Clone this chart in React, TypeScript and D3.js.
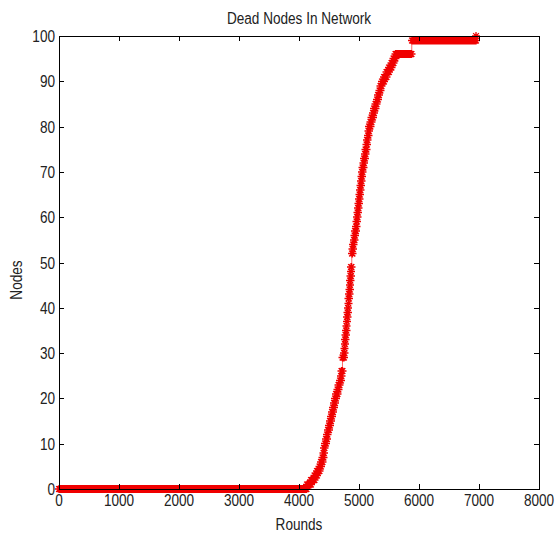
import React, { useRef, useEffect } from 'react';
import * as d3 from 'd3';

const title = 'Dead Nodes In Network';
const xLabel = 'Rounds';
const yLabel = 'Nodes';
const xTicks = [0, 1000, 2000, 3000, 4000, 5000, 6000, 7000, 8000];
const yTicks = [0, 10, 20, 30, 40, 50, 60, 70, 80, 90, 100];

// round at which each of the 100 nodes died
const deathRounds = [
  4130, 4200, 4260, 4300, 4340, 4370, 4390, 4410, 4420, 4430,
  4450, 4465, 4480, 4500, 4520, 4535, 4550, 4570, 4585, 4600,
  4620, 4640, 4660, 4680, 4700, 4710, 4725, 4725, 4725, 4750,
  4757, 4763, 4770, 4776, 4783, 4790, 4796, 4803, 4809, 4815,
  4821, 4828, 4834, 4841, 4847, 4853, 4859, 4865, 4870, 4880,
  4880, 4880, 4891, 4902, 4913, 4925, 4936, 4947, 4958, 4970,
  4978, 4986, 4994, 5002, 5010, 5018, 5026, 5034, 5042, 5050,
  5062, 5074, 5086, 5098, 5110, 5122, 5134, 5146, 5158, 5170,
  5191, 5212, 5233, 5254, 5275, 5296, 5317, 5338, 5359, 5380,
  5420, 5460, 5500, 5540, 5575, 5610, 5880, 5880, 5880, 6950,
];

const font = "'Liberation Sans', Arial, sans-serif";
const squeeze = 0.8; // narrow look of the original font

export default function App() {
  const ref = useRef<HTMLDivElement>(null);

  useEffect(() => {
    const width = 555;
    const height = 535;
    const margin = { top: 36, right: 16, bottom: 46, left: 59 };
    const el = ref.current;
    if (!el) return;

    const svg = d3
      .select(el)
      .call((g) => g.select('svg').remove())
      .append('svg')
      .attr('width', width)
      .attr('height', height)
      .style('display', 'block')
      .style('background', '#fff');

    const x = d3.scaleLinear().domain([0, 8000]).range([margin.left, width - margin.right]);
    const y = d3.scaleLinear().domain([0, 100]).range([height - margin.bottom, margin.top]);

    const lastRound = d3.max(deathRounds) as number;
    const rounds = d3.range(0, lastRound + 1);
    const data = rounds.map((r) => ({ round: r, dead: d3.bisectRight(deathRounds, r) }));

    // line
    svg.append('path')
      .attr('fill', 'none')
      .attr('stroke', '#ff0000')
      .attr('stroke-width', 0.6)
      .attr('d', d3.line<{ round: number; dead: number }>()
        .x((d) => x(d.round))
        .y((d) => y(d.dead))(data));

    // star markers, skip ones that land on the same spot
    const s = 4;
    const k = s * 0.72;
    const seen = new Set<string>();
    let dPath = '';
    data.forEach((d) => {
      const px = Math.round(x(d.round) * 2) / 2;
      const py = Math.round(y(d.dead) * 2) / 2;
      const key = `${px},${py}`;
      if (seen.has(key)) return;
      seen.add(key);
      dPath += `M${px - s},${py}h${2 * s}M${px},${py - s}v${2 * s}`;
      dPath += `M${px - k},${py - k}l${2 * k},${2 * k}M${px - k},${py + k}l${2 * k},${-2 * k}`;
    });
    svg.append('path')
      .attr('fill', 'none')
      .attr('stroke', '#f00000')
      .attr('stroke-width', 1.3)
      .attr('d', dPath);

    // box
    const x0 = margin.left;
    const x1 = width - margin.right;
    const y0 = margin.top;
    const y1 = height - margin.bottom;
    svg.append('rect')
      .attr('x', x0 + 0.5)
      .attr('y', y0 + 0.5)
      .attr('width', x1 - x0)
      .attr('height', y1 - y0)
      .attr('fill', 'none')
      .attr('stroke', '#000')
      .attr('stroke-width', 1);

    const tl = 5;
    const ticks = svg.append('g').attr('stroke', '#000').attr('stroke-width', 1);
    xTicks.forEach((t) => {
      const px = Math.round(x(t)) + 0.5;
      ticks.append('line').attr('x1', px).attr('x2', px).attr('y1', y1).attr('y2', y1 - tl);
      ticks.append('line').attr('x1', px).attr('x2', px).attr('y1', y0).attr('y2', y0 + tl);
    });
    yTicks.forEach((t) => {
      const py = Math.round(y(t)) + 0.5;
      ticks.append('line').attr('x1', x0).attr('x2', x0 + tl).attr('y1', py).attr('y2', py);
      ticks.append('line').attr('x1', x1).attr('x2', x1 - tl).attr('y1', py).attr('y2', py);
    });

    const text = svg.append('g')
      .attr('font-family', font)
      .attr('font-size', 17)
      .attr('fill', '#222');

    text.selectAll('.xt')
      .data(xTicks)
      .join('text')
      .attr('transform', (d) => `translate(${x(d)},${y1 + 17}) scale(${squeeze},1)`)
      .attr('text-anchor', 'middle')
      .text((d) => d);

    text.selectAll('.yt')
      .data(yTicks)
      .join('text')
      .attr('transform', (d) => `translate(${x0 - 4},${y(d) + 6}) scale(${squeeze},1)`)
      .attr('text-anchor', 'end')
      .text((d) => d);

    text.append('text')
      .attr('transform', `translate(${(x0 + x1) / 2},24) scale(${squeeze},1)`)
      .attr('text-anchor', 'middle')
      .text(title);

    text.append('text')
      .attr('transform', `translate(${(x0 + x1) / 2},530) scale(${squeeze},1)`)
      .attr('text-anchor', 'middle')
      .text(xLabel);

    text.append('text')
      .attr('transform', `translate(22,280) rotate(-90) scale(${squeeze},1)`)
      .attr('text-anchor', 'middle')
      .text(yLabel);
  }, []);

  return <div ref={ref} style={{ position: 'absolute', left: 0, top: 0 }}></div>;
}
